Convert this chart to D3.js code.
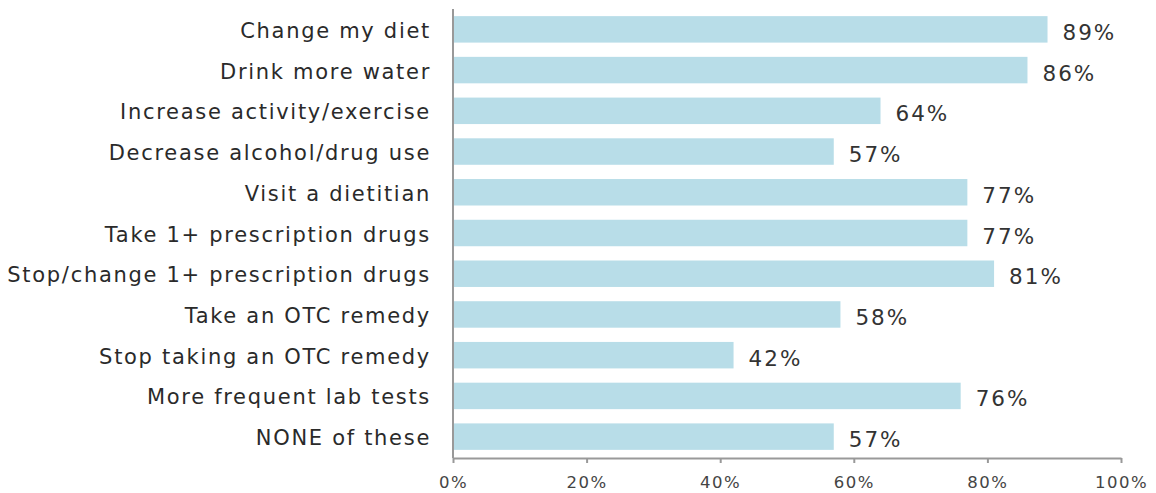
<!DOCTYPE html>
<html>
<head>
<meta charset="utf-8">
<script src="https://cdn.jsdelivr.net/npm/d3@7"></script>
<style>
  html, body { margin: 0; padding: 0; background: #fff; }
  svg { display: block; }
  text { font-family: "DejaVu Sans", sans-serif; }
</style>
</head>
<body>
<svg id="chart" width="1156" height="493"></svg>
<script>
// Actions taken, share of respondents
const categories = [
  "Change my diet",
  "Drink more water",
  "Increase activity/exercise",
  "Decrease alcohol/drug use",
  "Visit a dietitian",
  "Take 1+ prescription drugs",
  "Stop/change 1+ prescription drugs",
  "Take an OTC remedy",
  "Stop taking an OTC remedy",
  "More frequent lab tests",
  "NONE of these"
];
const values = [89, 86, 64, 57, 77, 77, 81, 58, 42, 76, 57];
const xTicks = [0, 20, 40, 60, 80, 100];

const svg = d3.select("#chart");
const plotLeft = 453, plotRight = 1121, plotTop = 9, plotBottom = 458;

const x = d3.scaleLinear().domain([0, 100]).range([plotLeft, plotRight]);
const y = d3.scaleBand().domain(categories).range([plotTop, plotBottom - 1])
  .paddingInner(0.35).paddingOuter(0.175);

// bars
svg.append("g").selectAll("rect")
  .data(categories)
  .join("rect")
  .attr("x", x(0))
  .attr("y", d => y(d))
  .attr("width", (d, i) => x(values[i]) - x(0))
  .attr("height", y.bandwidth())
  .attr("fill", "#b8dde8");

// value labels
svg.append("g").selectAll("text")
  .data(categories)
  .join("text")
  .attr("x", (d, i) => x(values[i]) + 15)
  .attr("y", d => y(d) + y.bandwidth() / 2 + 3)
  .attr("dominant-baseline", "central")
  .attr("font-size", 21.5)
  .attr("letter-spacing", 2)
  .attr("fill", "#333")
  .text((d, i) => values[i] + "%");

// category labels
svg.append("g").selectAll("text")
  .data(categories)
  .join("text")
  .attr("x", plotLeft - 22)
  .attr("y", d => y(d) + y.bandwidth() / 2 + 1.5)
  .attr("dominant-baseline", "central")
  .attr("text-anchor", "end")
  .attr("font-size", 21)
  .attr("letter-spacing", 1.7)
  .attr("fill", "#2a2a2a")
  .text(d => d);

// x axis
const xAxis = svg.append("g")
  .attr("transform", `translate(0,${plotBottom})`)
  .call(d3.axisBottom(x).tickValues(xTicks).tickFormat(d => d + "%").tickSize(5).tickSizeOuter(0));
xAxis.select(".domain").attr("stroke", "#999").attr("stroke-width", 2);
xAxis.selectAll(".tick line").attr("stroke", "#999").attr("stroke-width", 2);
xAxis.selectAll(".tick text")
  .attr("font-size", 16.5)
  .attr("letter-spacing", 1.5)
  .attr("fill", "#444")
  .attr("font-family", "DejaVu Sans, sans-serif")
  .attr("dy", "1.35em");

// y axis line
svg.append("line")
  .attr("x1", plotLeft).attr("x2", plotLeft)
  .attr("y1", plotTop).attr("y2", plotBottom)
  .attr("stroke", "#999").attr("stroke-width", 2);
</script>
</body>
</html>
